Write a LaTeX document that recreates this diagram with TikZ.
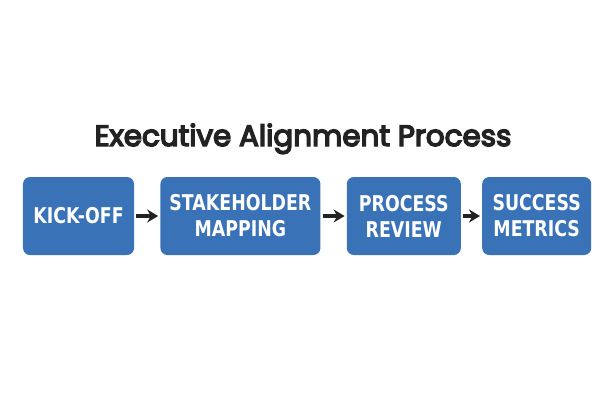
\documentclass[tikz,border=0pt]{standalone}
\usepackage{fontspec}
\usetikzlibrary{positioning,arrows.meta}
\newfontfamily\titlefont{Poppins}[FakeBold=5]
\newfontfamily\boxfont{DejaVu Sans}[FakeStretch=0.8]
\definecolor{stepblue}{HTML}{3A72B8}
\definecolor{inkgray}{HTML}{222222}

\begin{document}
\begin{tikzpicture}[x=1bp,y=-1bp,
    box/.style={fill=stepblue, rounded corners=7bp, minimum height=78bp,
        text=white, align=center, inner sep=0pt,
        font=\boxfont\bfseries\fontsize{21.8}{26}\selectfont},
    flow/.style={-{Stealth[length=11bp,width=13bp]}, line width=3.2bp, draw=inkgray,
        shorten <=2bp, shorten >=2bp}]
    \useasboundingbox (0,0) rectangle (612,408);

    \node[anchor=base, text=inkgray, font=\titlefont\fontsize{29.5}{34}\selectfont]
        (title) at (303,146) {Executive Alignment Process};

    \node[box, minimum width=111bp] (kickoff) at (78.5,216) {KICK-OFF};
    \node[box, minimum width=160bp, right=26bp of kickoff] (mapping) {STAKEHOLDER\\MAPPING};
    \node[box, minimum width=114bp, right=26bp of mapping] (review) {PROCESS\\REVIEW};
    \node[box, minimum width=109bp, right=21bp of review] (metrics) {SUCCESS\\METRICS};

    \draw[flow] (kickoff) -- (mapping);
    \draw[flow] (mapping) -- (review);
    \draw[flow] (review) -- (metrics);
\end{tikzpicture}
\end{document}
